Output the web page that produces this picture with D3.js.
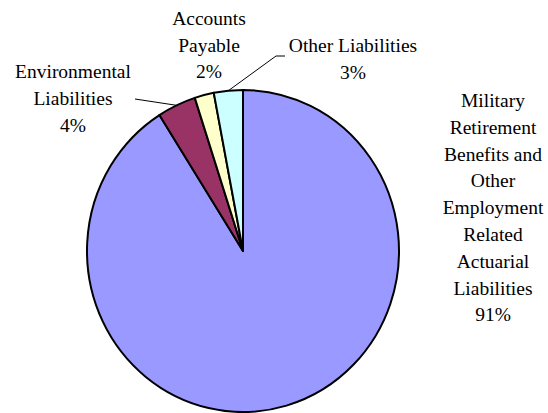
<!DOCTYPE html>
<html>
<head>
<meta charset="utf-8">
<script src="https://cdn.jsdelivr.net/npm/d3@7"></script>
<style>
  html, body { margin: 0; padding: 0; background: #fff; }
</style>
</head>
<body>
<svg id="chart" width="548" height="413"></svg>
<script>
const categories = [
  "Military Retirement Benefits and Other Employment Related Actuarial Liabilities",
  "Environmental Liabilities",
  "Accounts Payable",
  "Other Liabilities"
];
const values = [91, 4, 2, 3];
const colors = ["#9999FF", "#993366", "#FFFFCC", "#CCFFFF"];
const labelLines = [
  ["Military", "Retirement", "Benefits and", "Other", "Employment", "Related", "Actuarial", "Liabilities", "91%"],
  ["Environmental", "Liabilities", "4%"],
  ["Accounts", "Payable", "2%"],
  ["Other Liabilities", "3%"]
];

const svg = d3.select("#chart");
const cx = 243, cy = 251, rx = 156, ry = 161;

const data = categories.map((c, i) => ({ name: c, value: values[i], color: colors[i], lines: labelLines[i] }));

const pie = d3.pie().value(d => d.value).sort(null);
const arcs = pie(data);
const arc = d3.arc().innerRadius(0).outerRadius(rx);

const g = svg.append("g").attr("transform", `translate(${cx},${cy}) scale(1,${ry / rx})`);
g.selectAll("path").data(arcs).enter().append("path")
  .attr("d", arc)
  .attr("fill", d => d.data.color)
  .attr("stroke", "#000")
  .attr("stroke-width", 2)
  .attr("vector-effect", "non-scaling-stroke")
  .attr("stroke-linejoin", "round");

function edgePoint(a) {
  const m = (a.startAngle + a.endAngle) / 2;
  return [cx + rx * Math.sin(m), cy - ry * Math.cos(m)];
}

const labelPos = [
  { x: 493, y: 107, dy: 26.8 },
  { x: 73, y: 78, dy: 27 },
  { x: 209, y: 25, dy: 26.5 },
  { x: 353, y: 52, dy: 26.5 }
];

data.forEach((d, i) => {
  const p = labelPos[i];
  const t = svg.append("text")
    .attr("text-anchor", "middle")
    .attr("font-family", "'Liberation Serif', Tinos, 'DejaVu Serif', 'Times New Roman', serif")
    .attr("font-size", 19.5)
    .attr("fill", "#000");
  d.lines.forEach((ln, j) => {
    t.append("tspan").attr("x", p.x).attr("y", p.y + j * p.dy).text(ln);
  });
});

const envPt = edgePoint(arcs[1]);
svg.append("path")
  .attr("d", d3.line()([[135, 99], envPt]))
  .attr("fill", "none").attr("stroke", "#000").attr("stroke-width", 1);

const othPt = edgePoint(arcs[3]);
svg.append("path")
  .attr("d", d3.line()([[285, 56], [276, 56], othPt]))
  .attr("fill", "none").attr("stroke", "#000").attr("stroke-width", 1);
</script>
</body>
</html>
